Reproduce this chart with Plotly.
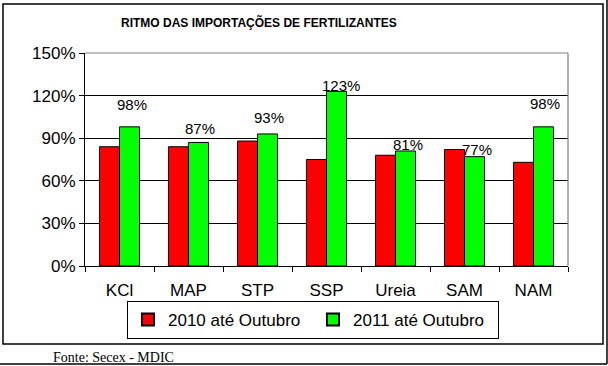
import plotly.graph_objects as go

categories = ["KCl", "MAP", "STP", "SSP", "Ureia", "SAM", "NAM"]
series_2010 = [84, 84, 88, 75, 78, 82, 73]
series_2011 = [98, 87, 93, 123, 81, 77, 98]
name_2010 = "2010 até Outubro"
name_2011 = "2011 até Outubro"
title_text = "RITMO DAS IMPORTAÇÕES DE FERTILIZANTES"
source_text = "Fonte: Secex - MDIC"
y_ticks = [0, 30, 60, 90, 120, 150]
y_tick_labels = ["0%", "30%", "60%", "90%", "120%", "150%"]

# label vertical offsets (px) as in the original
label_yshift = [22, 14, 16, 6, 6, 7, 23]
label_xshift = [12, 11, 11, 14, 12, 12, 11]

FONT = "Liberation Sans, Arial, sans-serif"

fig = go.Figure()
fig.add_trace(go.Bar(x=categories, y=series_2010, name=name_2010,
                     marker=dict(color="#FF0000", line=dict(color="black", width=1))))
fig.add_trace(go.Bar(x=categories, y=series_2011, name=name_2011,
                     marker=dict(color="#00FF00", line=dict(color="black", width=1))))

annotations = []
for c, v, ys, xs in zip(categories, series_2011, label_yshift, label_xshift):
    annotations.append(dict(x=c, y=v, xref="x", yref="y", text=f"{v}%", showarrow=False,
                            xanchor="center", yanchor="middle", xshift=xs, yshift=ys,
                            font=dict(family=FONT, size=15, color="black")))
annotations.append(dict(x=0.361, y=1.142, xref="paper", yref="paper", text=title_text,
                        showarrow=False, xanchor="center", yanchor="middle",
                        font=dict(family=FONT, size=12, color="black", weight="bold")))
annotations.append(dict(x=0.058, y=-0.43, xref="paper", yref="paper", text=source_text,
                        showarrow=False, xanchor="center", yanchor="middle",
                        font=dict(family="Liberation Serif, Times New Roman, serif", size=14, color="black")))

shapes = [
    # chart frame
    dict(type="rect", xref="paper", yref="paper", x0=-0.1698, x1=1.0725, y0=-0.366, y1=1.23,
         line=dict(color="black", width=1.5), layer="below"),
    # page lines
    dict(type="line", xref="paper", yref="paper", x0=1.0807, x1=1.0807, y0=-0.46, y1=1.3,
         line=dict(color="black", width=1.5)),
    dict(type="line", xref="paper", yref="paper", x0=-0.18, x1=1.0807, y0=-0.46, y1=-0.46,
         line=dict(color="black", width=1.5)),
    # gray plot border top/right
    dict(type="line", xref="paper", yref="paper", x0=0, x1=1, y0=1, y1=1,
         line=dict(color="#808080", width=1.2), layer="above"),
    dict(type="line", xref="paper", yref="paper", x0=1, x1=1, y0=0, y1=1,
         line=dict(color="#808080", width=1.2), layer="above"),
]

fig.update_layout(
    width=608, height=366,
    margin=dict(l=85, r=40, t=53, b=100, autoexpand=False),
    paper_bgcolor="white", plot_bgcolor="white",
    barmode="group", bargap=0.42, bargroupgap=0,
    showlegend=True,
    legend=dict(orientation="h", x=0.472, y=-0.2535, xanchor="center", yanchor="middle",
                bordercolor="black", borderwidth=1, bgcolor="white",
                font=dict(family=FONT, size=17, color="black"),
                entrywidth=140, entrywidthmode="pixels", itemsizing="constant"),
    annotations=annotations,
    shapes=shapes,
    xaxis=dict(showline=True, linecolor="black", linewidth=1, ticks="outside",
               tickson="boundaries", ticklen=5, tickcolor="black", automargin=False,
               ticklabelstandoff=9,
               tickfont=dict(family=FONT, size=17, color="black"), showgrid=False),
    yaxis=dict(range=[0, 150], tickvals=y_ticks, ticktext=y_tick_labels, automargin=False,
               showline=True, linecolor="black", linewidth=1, ticks="outside", ticklen=5,
               tickcolor="black", showgrid=True, gridcolor="black", gridwidth=1,
               zeroline=False, tickfont=dict(family=FONT, size=17, color="black")),
)

fig.write_html("out.html", config={"displayModeBar": False},
               post_script="document.body.style.margin='0';document.body.style.overflow='hidden';")
